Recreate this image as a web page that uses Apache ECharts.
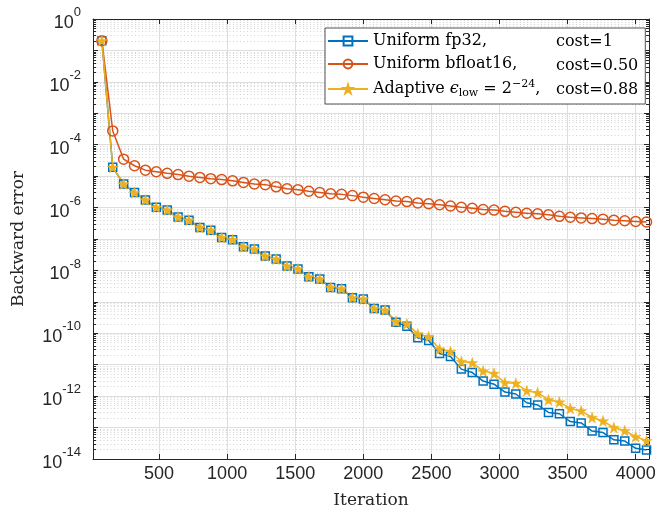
<!DOCTYPE html>
<html>
<head>
<meta charset="utf-8">
<script src="https://cdn.jsdelivr.net/npm/echarts@6/dist/echarts.min.js"></script>
<style>
html, body { margin: 0; padding: 0; background: #fff; }
#chart { width: 655px; height: 510px; }
</style>
</head>
<body>
<div id="chart"></div>
<script>
// iteration numbers where the backward error was recorded
const iterations = [80, 160, 240, 320, 400, 480, 560, 640, 720, 800,
  880, 960, 1040, 1120, 1200, 1280, 1360, 1440, 1520, 1600,
  1680, 1760, 1840, 1920, 2000, 2080, 2160, 2240, 2320, 2400,
  2480, 2560, 2640, 2720, 2800, 2880, 2960, 3040, 3120, 3200,
  3280, 3360, 3440, 3520, 3600, 3680, 3760, 3840, 3920, 4000, 4080];

// Uniform fp32
const errFp32 = [2.04e-1, 1.91e-5, 5.62e-6, 3.02e-6, 1.74e-6, 1.02e-6, 8.32e-7, 5.01e-7, 3.98e-7, 2.34e-7,
  1.91e-7, 1.12e-7, 9.55e-8, 5.62e-8, 4.79e-8, 2.88e-8, 2.29e-8, 1.38e-8, 1.12e-8, 6.31e-9,
  5.37e-9, 2.88e-9, 2.63e-9, 1.35e-9, 1.23e-9, 6.17e-10, 5.50e-10, 2.24e-10, 1.66e-10, 7.24e-11,
  5.89e-11, 2.29e-11, 1.82e-11, 7.24e-12, 5.62e-12, 3.02e-12, 2.40e-12, 1.35e-12, 1.17e-12, 6.17e-13,
  5.25e-13, 3.02e-13, 2.75e-13, 1.55e-13, 1.41e-13, 7.76e-14, 6.92e-14, 4.07e-14, 3.72e-14, 2.19e-14, 1.95e-14];

// Uniform bfloat16
const errBf16 = [2.04e-1, 2.75e-4, 3.47e-5, 2.14e-5, 1.55e-5, 1.38e-5, 1.23e-5, 1.12e-5, 1.00e-5, 9.12e-6,
  8.32e-6, 7.76e-6, 7.08e-6, 6.31e-6, 5.62e-6, 5.37e-6, 4.57e-6, 3.98e-6, 3.72e-6, 3.31e-6,
  3.02e-6, 2.75e-6, 2.63e-6, 2.40e-6, 2.14e-6, 1.95e-6, 1.78e-6, 1.62e-6, 1.55e-6, 1.41e-6,
  1.32e-6, 1.23e-6, 1.12e-6, 1.02e-6, 9.55e-7, 8.71e-7, 8.32e-7, 7.59e-7, 7.08e-7, 6.61e-7,
  6.31e-7, 5.89e-7, 5.25e-7, 4.90e-7, 4.68e-7, 4.47e-7, 4.27e-7, 3.98e-7, 3.80e-7, 3.63e-7, 3.47e-7];

// Adaptive eps_low = 2^-24
const errAdaptive = [2.04e-1, 1.91e-5, 5.62e-6, 3.02e-6, 1.74e-6, 1.02e-6, 8.32e-7, 5.01e-7, 3.98e-7, 2.34e-7,
  1.91e-7, 1.12e-7, 9.55e-8, 5.62e-8, 4.79e-8, 2.88e-8, 2.29e-8, 1.38e-8, 1.12e-8, 6.31e-9,
  5.37e-9, 2.88e-9, 2.63e-9, 1.35e-9, 1.23e-9, 6.17e-10, 5.50e-10, 2.40e-10, 2.00e-10, 9.55e-11,
  7.76e-11, 3.16e-11, 2.63e-11, 1.26e-11, 1.15e-11, 6.31e-12, 5.25e-12, 2.69e-12, 2.57e-12, 1.48e-12,
  1.29e-12, 7.59e-13, 6.46e-13, 4.07e-13, 3.39e-13, 2.09e-13, 1.62e-13, 1.00e-13, 7.94e-14, 5.13e-14, 3.80e-14];

const xTicks = [500, 1000, 1500, 2000, 2500, 3000, 3500, 4000];
const yTicks = [1e-14, 1e-13, 1e-12, 1e-11, 1e-10, 1e-9, 1e-8, 1e-7, 1e-6, 1e-5, 1e-4, 1e-3, 1e-2, 1e-1, 1];
const costs = ['cost=1', 'cost=0.50', 'cost=0.88'];

// minor log ticks 2..9 x 10^k
const yMinor = [];
for (let e = -14; e < 0; e++) {
  for (let m = 2; m <= 9; m++) yMinor.push(parseFloat(m + 'e' + e));
}

const axisColor = '#262626';
const tickFont = 'Liberation Sans';
const serif = 'DejaVu Serif';
const starPath = 'path://M50,0 L61.8,35.4 L99,35.4 L69,57.3 L80.2,92.7 L50,70.8 L19.8,92.7 L31,57.3 L1,35.4 L38.2,35.4 Z';

const pairs = arr => iterations.map((x, i) => [x, arr[i]]);

const chart = echarts.init(document.getElementById('chart'));

const yBase = {
  type: 'log',
  min: 1e-14,
  max: 1,
  axisLine: {show: false},
  axisLabel: {show: false},
  splitLine: {show: false}
};

chart.setOption({
  animation: false,
  backgroundColor: '#fff',
  grid: {left: 93, right: 6, top: 19, bottom: 51, outerBoundsMode: 'none'},
  legend: {
    orient: 'vertical',
    left: 325,
    top: 28,
    padding: [5, 105, 5, 2],
    itemWidth: 40,
    itemHeight: 11,
    itemGap: 7,
    backgroundColor: '#fff',
    borderColor: axisColor,
    borderWidth: 0.8,
    data: ['fp32', 'bf16', 'adaptive'],
    formatter: function (name) {
      if (name === 'fp32') return '{t|Uniform fp32,}';
      if (name === 'bf16') return '{t|Uniform bfloat16,}';
      return '{t|Adaptive }{it|ϵ}{sub|low}{t| = 2}{sup|−24}{t|,}';
    },
    textStyle: {
      color: '#000',
      rich: {
        t: {fontFamily: serif, fontSize: 16, lineHeight: 20, color: '#000'},
        it: {fontFamily: serif, fontStyle: 'italic', fontSize: 16, lineHeight: 20, color: '#000'},
        sub: {fontFamily: serif, fontSize: 11, lineHeight: 20, verticalAlign: 'bottom', color: '#000'},
        sup: {fontFamily: serif, fontSize: 11, lineHeight: 20, verticalAlign: 'top', color: '#000'}
      }
    }
  },
  graphic: costs.map((c, i) => ({
    type: 'text',
    x: 556,
    y: 42 + i * 24,
    z: 100,
    style: {text: c, fontFamily: serif, fontSize: 16, fill: '#000', verticalAlign: 'middle'}
  })),
  xAxis: [
    {
      type: 'value',
      min: 15,
      max: 4098,
      position: 'bottom',
      name: 'Iteration',
      nameLocation: 'middle',
      nameGap: 33,
      nameTextStyle: {fontFamily: serif, fontSize: 17, color: axisColor},
      axisLine: {onZero: false, lineStyle: {color: axisColor, width: 1}},
      axisTick: {inside: true, length: 5, customValues: xTicks, lineStyle: {color: axisColor}},
      axisLabel: {
        customValues: xTicks,
        formatter: v => String(v),
        fontFamily: tickFont, fontSize: 18, color: axisColor, margin: 6
      },
      splitLine: {show: true, lineStyle: {color: '#dedede', width: 1}}
    },
    {
      type: 'value',
      min: 15,
      max: 4098,
      position: 'top',
      axisLine: {onZero: false, lineStyle: {color: axisColor, width: 1}},
      axisTick: {inside: true, length: 5, customValues: xTicks, lineStyle: {color: axisColor}},
      axisLabel: {show: false},
      splitLine: {show: false}
    }
  ],
  yAxis: [
    {
      type: 'log',
      min: 1e-14,
      max: 1,
      position: 'left',
      name: 'Backward error',
      nameLocation: 'middle',
      nameGap: 66,
      nameTextStyle: {fontFamily: serif, fontSize: 17, color: axisColor},
      axisLine: {onZero: false, lineStyle: {color: axisColor, width: 1}},
      axisTick: {inside: true, length: 5, customValues: yTicks, lineStyle: {color: axisColor}},
      axisLabel: {
        customValues: yTicks,
        margin: 12,
        formatter: function (v) {
          const e = Math.round(Math.log10(v));
          if (e % 2 !== 0) return '';
          return '{b|10}{s|' + e + '}';
        },
        rich: {
          b: {fontFamily: tickFont, fontSize: 18, lineHeight: 26, verticalAlign: 'bottom', color: axisColor},
          s: {fontFamily: tickFont, fontSize: 13, lineHeight: 26, verticalAlign: 'top', color: axisColor}
        }
      },
      splitLine: {show: true, lineStyle: {color: '#dedede', width: 1}}
    },
    Object.assign({}, yBase, {
      position: 'left',
      axisTick: {inside: true, length: 3, customValues: yMinor, lineStyle: {color: axisColor}},
      splitLine: {show: true, lineStyle: {color: '#c8c8c8', width: 0.8, type: [1, 2.5]}}
    }),
    Object.assign({}, yBase, {
      position: 'right',
      axisLine: {show: true, onZero: false, lineStyle: {color: axisColor, width: 1}},
      axisTick: {inside: true, length: 5, customValues: yTicks, lineStyle: {color: axisColor}}
    }),
    Object.assign({}, yBase, {
      position: 'right',
      axisTick: {inside: true, length: 3, customValues: yMinor, lineStyle: {color: axisColor}}
    })
  ],
  series: [
    {
      name: 'fp32',
      type: 'line',
      data: pairs(errFp32),
      symbol: 'rect',
      symbolSize: 8,
      showAllSymbol: true,
      lineStyle: {color: '#0072BD', width: 1.5},
      itemStyle: {color: 'rgba(255,255,255,0)', borderColor: '#0072BD', borderWidth: 1.5}
    },
    {
      name: 'bf16',
      type: 'line',
      data: pairs(errBf16),
      symbol: 'circle',
      symbolSize: 10,
      showAllSymbol: true,
      lineStyle: {color: '#D95319', width: 1.5},
      itemStyle: {color: 'rgba(255,255,255,0)', borderColor: '#D95319', borderWidth: 1.5}
    },
    {
      name: 'adaptive',
      type: 'line',
      data: pairs(errAdaptive),
      symbol: starPath,
      symbolSize: 11,
      showAllSymbol: true,
      lineStyle: {color: '#EDB120', width: 1.5},
      itemStyle: {color: '#EDB120', borderColor: '#EDB120', borderWidth: 0.5}
    }
  ]
});
</script>
</body>
</html>
